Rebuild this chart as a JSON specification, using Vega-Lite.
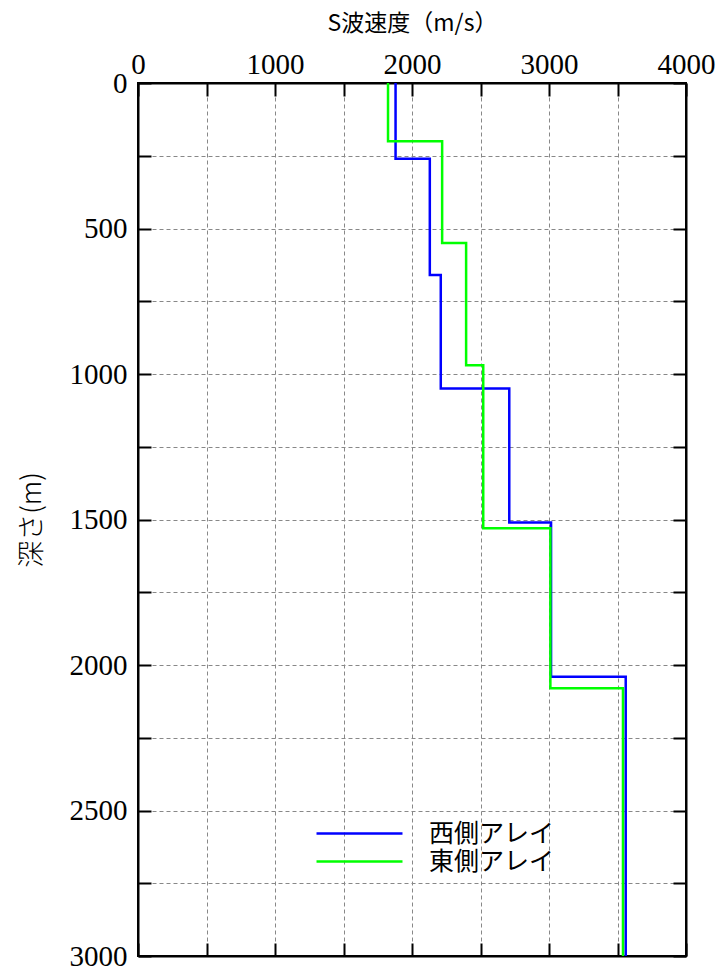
{
  "$schema": "https://vega.github.io/schema/vega-lite/v6.json",
  "width": 548,
  "height": 873,
  "autosize": "none",
  "padding": {"left": 138, "top": 83, "right": 31, "bottom": 11},
  "background": "white",
  "config": {
    "view": {"stroke": "black", "strokeWidth": 2},
    "axis": {
      "domainColor": "black",
      "domainWidth": 2,
      "tickColor": "black",
      "tickWidth": 2,
      "tickSize": -13,
      "labelFont": "Liberation Serif",
      "labelFontSize": 29,
      "labelFontWeight": "normal",
      "labelColor": "black",
      "labelOverlap": false,
      "labelFlush": false,
      "gridColor": "#888888",
      "gridDash": [4, 3],
      "gridWidth": 1,
      "gridOpacity": 1,
      "titleColor": "black",
      "titleFontWeight": "normal"
    }
  },
  "data": {
    "values": [
      {"s": "西側アレイ", "i": 0, "v": 1880, "d": 0},
      {"s": "西側アレイ", "i": 1, "v": 1880, "d": 260},
      {"s": "西側アレイ", "i": 2, "v": 2130, "d": 260},
      {"s": "西側アレイ", "i": 3, "v": 2130, "d": 660},
      {"s": "西側アレイ", "i": 4, "v": 2210, "d": 660},
      {"s": "西側アレイ", "i": 5, "v": 2210, "d": 1050},
      {"s": "西側アレイ", "i": 6, "v": 2710, "d": 1050},
      {"s": "西側アレイ", "i": 7, "v": 2710, "d": 1510},
      {"s": "西側アレイ", "i": 8, "v": 3015, "d": 1510},
      {"s": "西側アレイ", "i": 9, "v": 3015, "d": 2040},
      {"s": "西側アレイ", "i": 10, "v": 3560, "d": 2040},
      {"s": "西側アレイ", "i": 11, "v": 3560, "d": 3000},
      {"s": "東側アレイ", "i": 0, "v": 1825, "d": 0},
      {"s": "東側アレイ", "i": 1, "v": 1825, "d": 200},
      {"s": "東側アレイ", "i": 2, "v": 2220, "d": 200},
      {"s": "東側アレイ", "i": 3, "v": 2220, "d": 550},
      {"s": "東側アレイ", "i": 4, "v": 2395, "d": 550},
      {"s": "東側アレイ", "i": 5, "v": 2395, "d": 970},
      {"s": "東側アレイ", "i": 6, "v": 2520, "d": 970},
      {"s": "東側アレイ", "i": 7, "v": 2520, "d": 1530},
      {"s": "東側アレイ", "i": 8, "v": 3010, "d": 1530},
      {"s": "東側アレイ", "i": 9, "v": 3010, "d": 2080},
      {"s": "東側アレイ", "i": 10, "v": 3540, "d": 2080},
      {"s": "東側アレイ", "i": 11, "v": 3540, "d": 3000}
    ]
  },
  "resolve": {"axis": {"x": "independent", "y": "independent"}},
  "layer": [
    {
      "mark": {"type": "line", "strokeWidth": 2.5, "clip": true},
      "encoding": {
        "x": {
          "field": "v",
          "type": "quantitative",
          "scale": {"domain": [0, 4000], "nice": false, "zero": false},
          "axis": {
            "orient": "top",
            "title": "S波速度（m/s）",
            "titleFont": "Noto Sans CJK JP",
            "titleFontSize": 23,
            "titlePadding": 15,
            "values": [0, 500, 1000, 1500, 2000, 2500, 3000, 3500, 4000],
            "labelExpr": "datum.value % 1000 == 0 ? format(datum.value, 'd') : ''",
            "labelPadding": 17,
            "grid": true
          }
        },
        "y": {
          "field": "d",
          "type": "quantitative",
          "scale": {"domain": [0, 3000], "reverse": true, "nice": false, "zero": false},
          "axis": {
            "orient": "left",
            "title": "深さ(m)",
            "titleFont": "Noto Sans CJK JP",
            "titleFontSize": 27,
            "titleFontWeight": 300,
            "titlePadding": 23,
            "values": [0, 250, 500, 750, 1000, 1250, 1500, 1750, 2000, 2250, 2500, 2750, 3000],
            "labelExpr": "datum.value % 500 == 0 ? format(datum.value, 'd') : ''",
            "labelPadding": 24,
            "grid": true
          }
        },
        "order": {"field": "i", "type": "quantitative"},
        "color": {
          "field": "s",
          "type": "nominal",
          "scale": {"domain": ["西側アレイ", "東側アレイ"], "range": ["#0000ff", "#00ff00"]},
          "legend": {
            "title": null,
            "orient": "none",
            "legendX": 209,
            "legendY": 738,
            "padding": 0,
            "symbolType": "M-4,0H4",
            "symbolSize": 462,
            "symbolStrokeWidth": 2.5,
            "labelFont": "Noto Sans CJK JP",
            "labelFontSize": 25,
            "labelColor": "black",
            "labelOffset": 57,
            "rowPadding": 2
          }
        }
      }
    },
    {
      "mark": {"type": "point", "opacity": 0},
      "encoding": {
        "x": {
          "field": "v",
          "type": "quantitative",
          "axis": {
            "orient": "bottom",
            "title": null,
            "values": [0, 500, 1000, 1500, 2000, 2500, 3000, 3500, 4000],
            "labels": false,
            "grid": false
          }
        },
        "y": {
          "field": "d",
          "type": "quantitative",
          "axis": {
            "orient": "right",
            "title": null,
            "values": [0, 250, 500, 750, 1000, 1250, 1500, 1750, 2000, 2250, 2500, 2750, 3000],
            "labels": false,
            "grid": false
          }
        }
      }
    }
  ]
}
